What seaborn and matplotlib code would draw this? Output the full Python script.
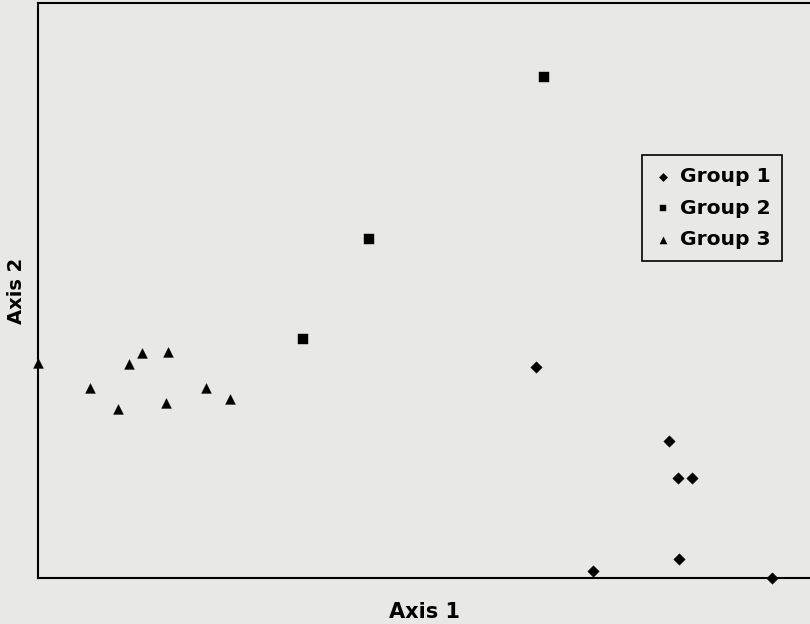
import matplotlib
matplotlib.use("Agg")
import matplotlib.pyplot as plt
import seaborn as sns
import pandas as pd

# ---- data ----
groups = ["Group 1", "Group 2", "Group 3"]
g1_x = [64.5, 81.7, 82.9, 84.7, 83.0, 71.9, 95.1]
g1_y = [36.7, 23.8, 17.4, 17.4, 3.3, 1.2, 0.0]
g2_x = [34.3, 42.9, 65.5]
g2_y = [41.6, 59.0, 87.1]
g3_x = [0.0, 6.7, 10.4, 11.8, 13.5, 16.8, 16.6, 21.8, 24.9]
g3_y = [37.4, 33.0, 29.4, 37.2, 39.1, 39.3, 30.4, 33.0, 31.1]

df = pd.concat([
    pd.DataFrame({"Axis 1": g1_x, "Axis 2": g1_y, "group": groups[0]}),
    pd.DataFrame({"Axis 1": g2_x, "Axis 2": g2_y, "group": groups[1]}),
    pd.DataFrame({"Axis 1": g3_x, "Axis 2": g3_y, "group": groups[2]}),
], ignore_index=True)

bg = "#e8e8e6"
sns.set_theme(style="white")
plt.rcParams["font.family"] = ["DejaVu Sans"]
plt.rcParams["text.color"] = "black"
plt.rcParams["axes.labelcolor"] = "black"

fig = plt.figure(figsize=(8.1, 6.24), dpi=100, facecolor=bg)
ax = fig.add_axes([38 / 810, 46 / 624, 772 / 810, 575 / 624])
ax.set_facecolor(bg)

markers = {"Group 1": "D", "Group 2": "s", "Group 3": "^"}
sizes = {"Group 1": 34, "Group 2": 42, "Group 3": 50}
for g in groups:
    sub = df[df["group"] == g]
    sns.scatterplot(data=sub, x="Axis 1", y="Axis 2", ax=ax, marker=markers[g],
                    s=sizes[g], color="black", edgecolor="black", linewidth=0.3,
                    label=g, clip_on=False, zorder=3)

ax.set_xlim(0, 100)
ax.set_ylim(0, 100)
ax.set_xticks([])
ax.set_yticks([])

for side in ["left", "bottom", "top"]:
    ax.spines[side].set_visible(True)
    ax.spines[side].set_color("black")
    ax.spines[side].set_linewidth(1.5)
ax.spines["right"].set_visible(False)

ax.set_xlabel("Axis 1", fontsize=15, fontweight="bold", color="black")
ax.set_ylabel("Axis 2", fontsize=14, fontweight="bold", color="black")
ax.xaxis.set_label_coords(0.501, -0.042)
ax.yaxis.set_label_coords(-0.016, 0.50)

leg = ax.legend(loc="upper left", bbox_to_anchor=((642 - 38) / 772, (578 - 155) / 575),
                borderaxespad=0, frameon=True, fancybox=False, framealpha=1,
                facecolor=bg, edgecolor="black", markerscale=0.72,
                prop={"size": 14.6, "weight": "bold"}, labelcolor="black",
                handlelength=0.9, handletextpad=0.35, borderpad=0.6,
                labelspacing=0.62)
leg.get_frame().set_linewidth(1.2)

fig.savefig("out.png", dpi=100, facecolor=bg)
